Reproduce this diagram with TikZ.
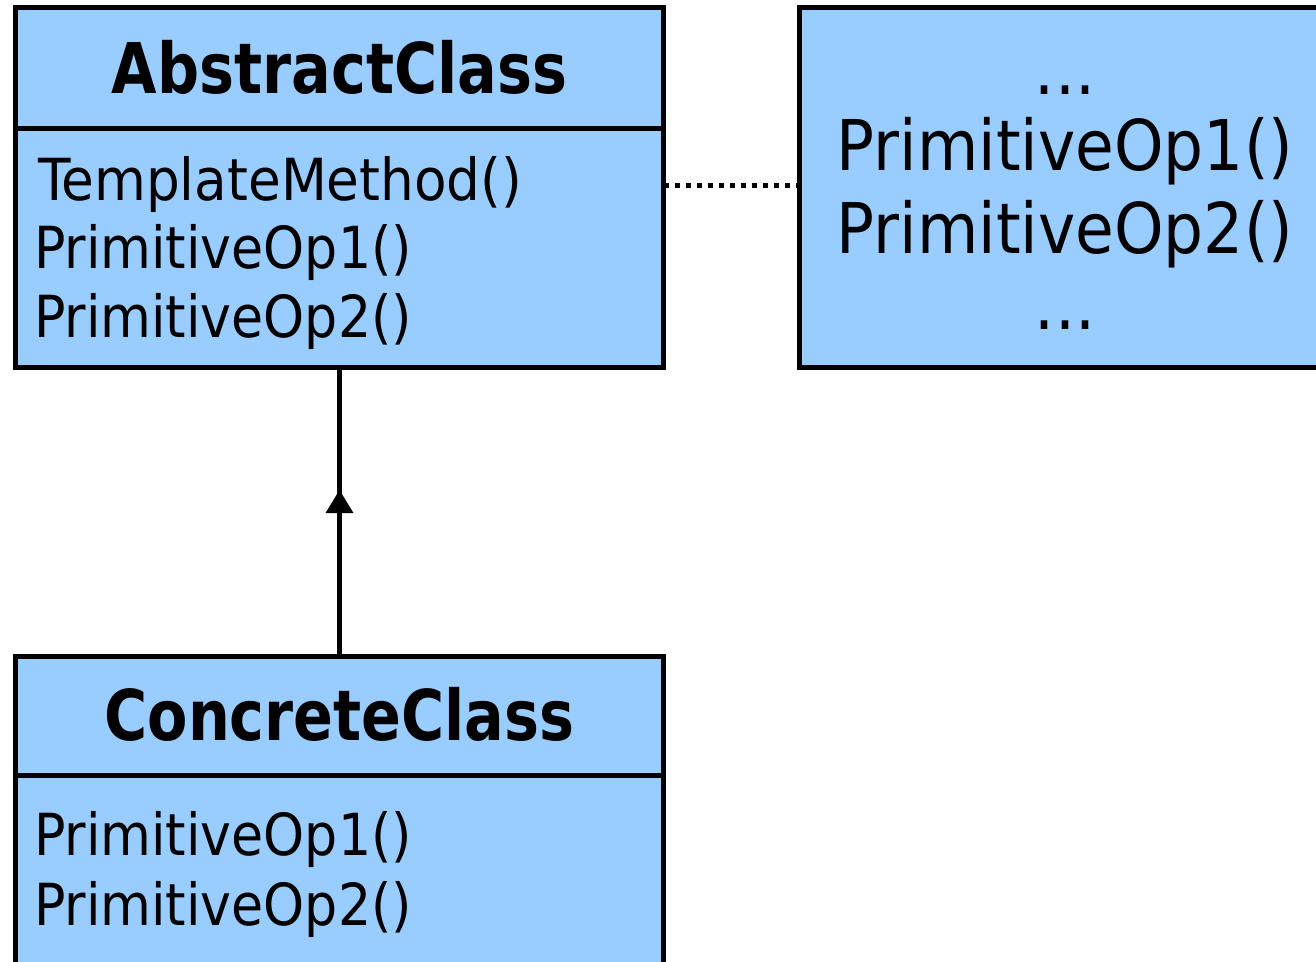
\documentclass[tikz,border=0pt]{standalone}
\usepackage{fontspec}
\newfontfamily\bodyfont[FakeStretch=0.9]{DejaVu Sans}
\newfontfamily\titlefont[FakeStretch=0.84]{DejaVu Sans Bold}
\definecolor{umlblue}{RGB}{153,204,255}
\tikzset{
  classbox/.style={draw=black, fill=umlblue, line width=5pt, rectangle, inner sep=0pt, outer sep=0pt},
  sepline/.style={line width=5pt},
  cls/.style={inner sep=0pt, outer sep=0pt, anchor=base, font=\titlefont\fontsize{70}{84}\selectfont},
  op/.style={inner sep=0pt, outer sep=0pt, anchor=base west, font=\bodyfont\fontsize{58}{70}\selectfont},
  noteop/.style={inner sep=0pt, outer sep=0pt, anchor=base, font=\bodyfont\fontsize{70}{84}\selectfont},
  dotline/.style={line width=5pt, dash pattern=on 5pt off 6pt},
  inherit/.style={line width=5pt}
}
\begin{document}
\begin{tikzpicture}[x=1pt,y=-1pt]
\clip (0,0) rectangle (1316,961);
\fill[white] (0,0) rectangle (1316,961);
% boxes
\node[classbox, minimum width=648pt, minimum height=360pt] (abs) at (339.5,187.5) {};
\node[classbox, minimum width=560pt, minimum height=360pt] (note) at (1079.5,187.5) {};
\node[classbox, minimum width=648pt, minimum height=360pt] (conc) at (339.5,836.5) {};
% separators
\draw[sepline] (abs.west |- 0,128) coordinate (absL) -- (abs.east |- 0,128) coordinate (absR);
\draw[sepline] (conc.west |- 0,775) coordinate (concL) -- (conc.east |- 0,775) coordinate (concR);
% texts
\node[cls] (absname) at (339.5,93) {AbstractClass};
\node[op, xscale=1.02] (tm) at (38,200) {TemplateMethod()};
\node[op] (p1) at (34,268) {PrimitiveOp1()};
\node[op] (p2) at (34,337) {PrimitiveOp2()};
\node[noteop] (nd1) at (1065,94) {...};
\node[noteop] (np1) at (1065,170) {PrimitiveOp1()};
\node[noteop] (np2) at (1065,253) {PrimitiveOp2()};
\node[noteop] (nd2) at (1065,329) {...};
\node[cls] (concname) at (339.5,740) {ConcreteClass};
\node[op] (cp1) at (34,855) {PrimitiveOp1()};
\node[op] (cp2) at (34,925) {PrimitiveOp2()};
% connectors
\draw[dotline] (abs.east |- 0,185) -- (note.west |- 0,185);
\draw[inherit] (conc.north) -- coordinate[pos=0.576] (tip) (abs.south);
\fill (tip) -- ++(-14,23) -- ++(28,0) -- cycle;
\end{tikzpicture}
\end{document}
